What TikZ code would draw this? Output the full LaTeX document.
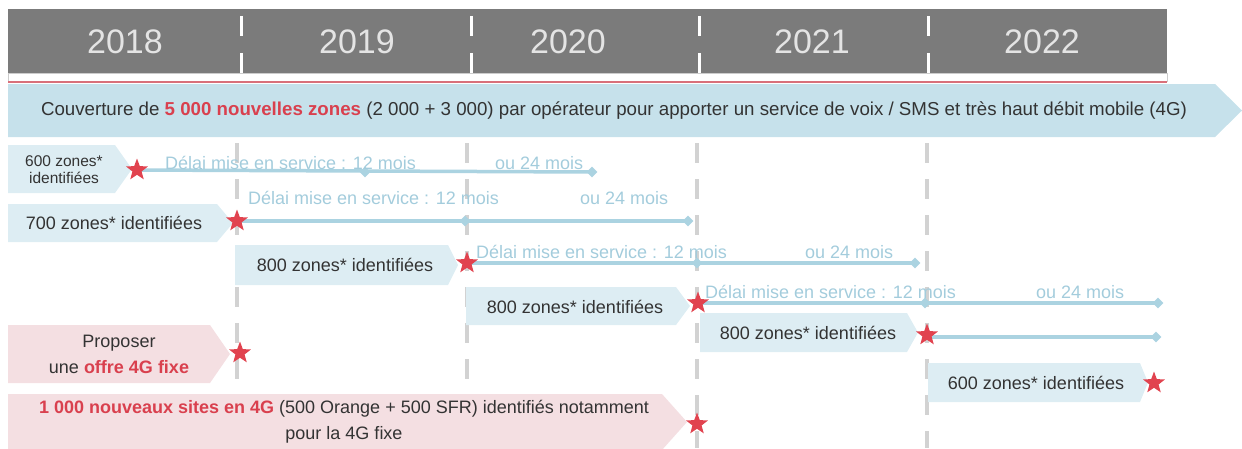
\documentclass[tikz,border=0pt]{standalone}
\usepackage{fontspec}
\setmainfont{Liberation Sans}
\usetikzlibrary{shapes.geometric}

\definecolor{hdrgray}{HTML}{7B7B7B}
\definecolor{yeartxt}{HTML}{E4E4E4}
\definecolor{bannerblue}{HTML}{C6E1EB}
\definecolor{rowblue}{HTML}{DDEDF3}
\definecolor{rowpink}{HTML}{F4DFE2}
\definecolor{tlblue}{HTML}{ABD3E1}
\definecolor{delaitxt}{HTML}{A3CCDC}
\definecolor{starred}{HTML}{E1434F}
\definecolor{redtxt}{HTML}{D9404E}
\definecolor{txtdark}{HTML}{333333}
\definecolor{gridgray}{HTML}{D2D2D2}
\definecolor{rulered}{HTML}{D9707A}

\pgfdeclarelayer{back}
\pgfdeclarelayer{front}
\pgfsetlayers{back,main,front}

\tikzset{
  yearlbl/.style={text=yeartxt, font=\fontsize{34}{36}\selectfont, inner sep=0},
  boxtxt/.style={text=txtdark, font=\fontsize{18}{20}\selectfont, inner sep=0, align=center},
  smalltxt/.style={text=txtdark, font=\fontsize{15.5}{17}\selectfont, inner sep=0, align=center},
  pinktxt/.style={text=txtdark, font=\fontsize{18}{26}\selectfont, inner sep=0, align=center},
  delai/.style={text=delaitxt, font=\fontsize{18}{20}\selectfont, inner sep=0, anchor=base west},
  redstar/.style={star, star points=5, star point ratio=2.4, minimum size=23pt, inner sep=0, fill=starred},
  tick/.style={diamond, fill=tlblue, minimum size=11pt, inner sep=0},
  tl/.style={draw=tlblue, line width=3.5pt},
  vgrid/.style={draw=gridgray, line width=4pt, dash pattern=on 20pt off 16pt},
  hdash/.style={draw=white, line width=3pt},
}

% arrow-shaped band: fill, left x, top y, bottom y, shoulder x, tip x
\newcommand\tagshape[6]{%
  \fill[#1] (#2,#3) -- (#5,#3) -- (#6,{(#3+#4)/2}) -- (#5,#4) -- (#2,#4) -- cycle;}

\begin{document}
\begin{tikzpicture}[x=1pt,y=-1pt]
\useasboundingbox (0,0) rectangle (1242,448);

% header with the years
\fill[hdrgray] (8,9) rectangle (1167,73);
\draw[gray!40, line width=0.6pt, fill=white] (8,73) rectangle (1167,81);
\draw[rulered, line width=2pt] (8,82) -- (1167,82);
\foreach \x in {241,471,699,928}{
  \draw[hdash] (\x,16) -- (\x,36);
  \draw[hdash] (\x,53) -- (\x,73);
}
\node[yearlbl] (y18) at (125,42) {2018};
\node[yearlbl] (y19) at (357,42) {2019};
\node[yearlbl] (y20) at (568,42) {2020};
\node[yearlbl] (y21) at (812,42) {2021};
\node[yearlbl] (y22) at (1042,42) {2022};

% banner
\tagshape{bannerblue}{8}{84}{137}{1215}{1242}
\node[text=txtdark, font=\fontsize{18.7}{20}\selectfont, inner sep=0] (cover) at (614,111)
  {Couverture de {\color{redtxt}\bfseries 5 000 nouvelles zones} (2 000 + 3 000) par opérateur pour apporter un service de voix / SMS et très haut débit mobile (4G)};

% year separators below the header
\begin{pgfonlayer}{back}
\foreach \x in {237,467,697,927}{
  \draw[vgrid] (\x,143) -- (\x,448);
}
\end{pgfonlayer}

% coverage bands
\tagshape{rowblue}{8}{145}{193}{115}{132}
\tagshape{rowblue}{8}{204}{242}{217}{233}
\tagshape{rowblue}{235}{245}{285}{448}{458}
\tagshape{rowblue}{466}{287}{325}{676}{690}
\tagshape{rowblue}{700}{313}{352}{907}{918}
\tagshape{rowblue}{928}{363}{402}{1140}{1148}
\tagshape{rowpink}{8}{325}{383}{210}{230}
\tagshape{rowpink}{8}{394}{450}{662}{687}

\node[smalltxt] (z1) at (64,170) {600 zones*\\identifiées};
\node[boxtxt] (z2) at (114,223) {700 zones* identifiées};
\node[boxtxt] (z3) at (345,265) {800 zones* identifiées};
\node[boxtxt] (z4) at (575,307) {800 zones* identifiées};
\node[boxtxt] (z5) at (808,333) {800 zones* identifiées};
\node[boxtxt] (z6) at (1036,383) {600 zones* identifiées};
\node[pinktxt] (p1) at (119,354) {Proposer\\une {\color{redtxt}\bfseries offre 4G fixe}};
\node[pinktxt] (p2) at (344,422)
  {{\color{redtxt}\bfseries 1 000 nouveaux sites en 4G} (500 Orange + 500 SFR) identifiés notamment\\pour la 4G fixe};

% milestones
\begin{pgfonlayer}{front}
\node[redstar] (s1) at (137,170) {};
\node[redstar] (s2) at (237,221) {};
\node[redstar] (s3) at (467,263) {};
\node[redstar] (s4) at (698,303) {};
\node[redstar] (s5) at (927,335) {};
\node[redstar] (s6) at (1154,383) {};
\node[redstar] (s7) at (240,353) {};
\node[redstar] (s8) at (697,424) {};
\end{pgfonlayer}

% deadlines: 12 months and 24 months
\node[tick] (a1) at (365,172) {};
\node[tick] (b1) at (592,172) {};
\node[tick] (a2) at (465,221) {};
\node[tick] (b2) at (688,221) {};
\node[tick] (a3) at (697,263) {};
\node[tick] (b3) at (915,263) {};
\node[tick] (a4) at (925,303) {};
\node[tick] (b4) at (1158,303) {};
\node[tick] (b5) at (1156,337) {};

\draw[tl] (s1.center) -- (b1.center);
\draw[tl] (s2.center) -- (b2.center);
\draw[tl] (s3.center) -- (b3.center);
\draw[tl] (s4.center) -- (b4.center);
\draw[tl] (s5.center) |- (b5.center);

\node[delai] (d1) at (165,169) {Délai mise en service : 12 mois};
\node[delai] (o1) at (495,169) {ou 24 mois};
\node[delai] (d2) at (248,204) {Délai mise en service : 12 mois};
\node[delai] (o2) at (580,204) {ou 24 mois};
\node[delai] (d3) at (476,258) {Délai mise en service : 12 mois};
\node[delai] (o3) at (805,258) {ou 24 mois};
\node[delai] (d4) at (705,298) {Délai mise en service : 12 mois};
\node[delai] (o4) at (1036,298) {ou 24 mois};
\end{tikzpicture}
\end{document}
